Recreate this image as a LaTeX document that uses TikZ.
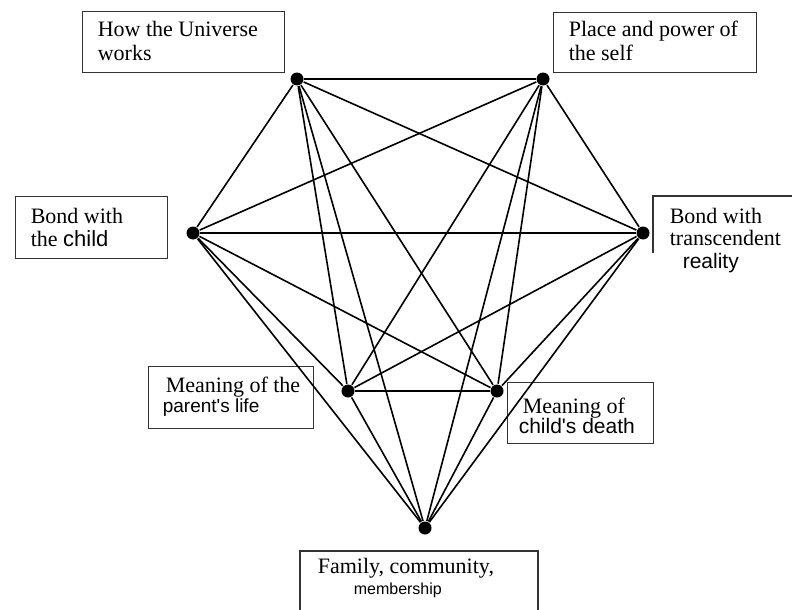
\documentclass[tikz,border=0pt]{standalone}
\usepackage{fontspec}
\setmainfont{Liberation Serif}
\newfontfamily\sansf{Liberation Sans}

\begin{document}
\begin{tikzpicture}[x=1pt,y=-1pt,line width=1.6pt,
    dot/.style={circle,fill=black,inner sep=0pt,minimum size=13pt},
    box/.style={draw=black!80,line width=1.2pt,inner sep=0pt,anchor=north west},
    txt/.style={anchor=base west,inner sep=0pt,font=\fontsize{22}{24}\selectfont},
    stxt/.style={anchor=base west,inner sep=0pt,font=\sansf\fontsize{21}{22}\selectfont}]
    %
    \useasboundingbox[fill=white] (0,0) rectangle (792,610);
    %
    \node[box,minimum width=202pt,minimum height=61pt] (universebox) at (82,11) {};
    \node[box,minimum width=203pt,minimum height=60pt] (selfbox) at (553,12) {};
    \node[box,minimum width=152pt,minimum height=62pt] (childbox) at (15,196) {};
    \node[box,minimum width=165pt,minimum height=62pt] (parentbox) at (148,366) {};
    \node[box,minimum width=146pt,minimum height=61pt] (deathbox) at (507,382) {};
    \draw[draw=black!80,line width=1.2pt] (653,253) |- (792,196);
    \draw[draw=black!80,line width=1.2pt] (300,610) |- (538,551) -- (538,610);
    %
    \node[txt] (universe1) at (97,37) {How the Universe};
    \node[txt] (universe2) at (97,61) {works};
    \node[txt] (self1) at (568,37) {Place and power of};
    \node[txt] (self2) at (568,61) {the self};
    \node[txt] (child1) at (30,223) {Bond with};
    \node[txt] (child2) at (30,246) {the {\sansf child}};
    \node[txt] (real1) at (669,223) {Bond with};
    \node[txt] (real2) at (669,245) {transcendent};
    \node[stxt] (real3) at (682,268) {reality};
    \node[txt] (parent1) at (165,392) {Meaning of the};
    \node[stxt,font=\sansf\fontsize{19}{20}\selectfont] (parent2) at (162,412) {parent's life};
    \node[txt] (death1) at (522,413) {Meaning of};
    \node[stxt] (death2) at (518,433) {child's death};
    \node[txt] (family1) at (317,573) {Family, community,};
    \node[stxt,font=\sansf\fontsize{16}{18}\selectfont] (family2) at (353,594) {membership};
    %
    \node[dot] (a) at (297,79) {};
    \node[dot] (b) at (543,79) {};
    \node[dot] (c) at (193,233) {};
    \node[dot] (d) at (643,233) {};
    \node[dot] (e) at (348,391) {};
    \node[dot] (f) at (497,391) {};
    \node[dot] (g) at (425,528) {};
    %
    \draw (a) -- (b);
    \draw (a) -- (c);
    \draw (a) -- (d);
    \draw (a) -- (e);
    \draw (a) -- (f);
    \draw (a) -- (g);

    \draw (b) -- (c);
    \draw (b) -- (d);
    \draw (b) -- (e);
    \draw (b) -- (f);
    \draw (b) -- (g);

    \draw (c) -- (d);
    \draw (c) -- (e);
    \draw (c) -- (f);
    \draw (c) -- (g);

    \draw (d) -- (e);
    \draw (d) -- (f);
    \draw (d) -- (g);

    \draw (e) -- (f);
    \draw (e) -- (g);
    \draw (f) -- (g);
    %
\end{tikzpicture}
\end{document}
